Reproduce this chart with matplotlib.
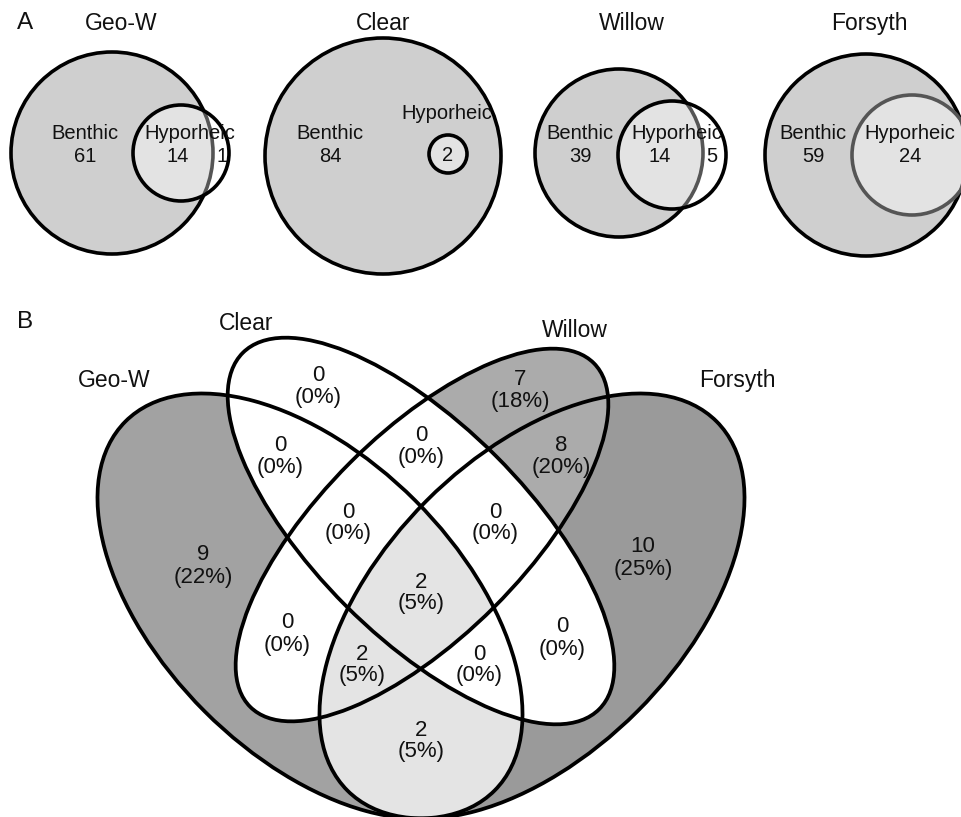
import numpy as np
import matplotlib
matplotlib.use("Agg")
import matplotlib.pyplot as plt
from matplotlib.patches import Circle, Ellipse

# ---------------- Data ----------------
# Panel A: benthic vs hyporheic taxa per site
sites = ["Geo-W", "Clear", "Willow", "Forsyth"]
benthic_only = [61, 84, 39, 59]
shared_taxa = [14, 2, 14, 24]
hyporheic_only = [1, 0, 5, 0]

# Panel B: four-set Venn (membership flags: Geo-W, Clear, Willow, Forsyth)
venn_sets = ["Geo-W", "Clear", "Willow", "Forsyth"]
region_keys = ["1000", "0100", "0010", "0001", "1100", "0110", "0011",
               "1110", "0111", "1111", "1010", "0101", "1011", "1101", "1001"]
region_counts = [9, 0, 7, 10, 0, 0, 8, 0, 0, 2, 0, 0, 2, 0, 2]
region_pcts = ["22%", "0%", "18%", "25%", "0%", "0%", "20%", "0%", "0%",
               "5%", "0%", "0%", "5%", "0%", "5%"]

# ---------------- Layout / style ----------------
FONT = ["Liberation Sans", "DejaVu Sans"]
plt.rcParams["font.family"] = FONT
TXT = "#111111"
LW = 2.6

fig = plt.figure(figsize=(9.62, 8.17), dpi=100)
ax = fig.add_axes([0, 0, 1, 1])
ax.set_xlim(0, 962)
ax.set_ylim(817, 0)
ax.axis("off")

# ---- Panel A ----
big_c = [(112, 153), (383, 156), (619, 153), (866, 155)]
big_r = [101, 118, 84, 101]
small_c = [(181, 153), (448, 154), (672, 155), (912, 155)]
small_r = [48, 19, 54, 60]
title_x = [121, 383, 632, 869]
benthic_x = [85, 330, 580, 813]
hypo_lab = [(190, 133), (447, 113), (677, 133), (910, 133)]
shared_pos = [(178, 156), (448, 155), (660, 156), (910, 156)]
hypo_only_x = [222, None, 712, None]
small_edge = ["black", "black", "black", "#555555"]

ax.text(25, 23, "A", fontsize=17.5, ha="center", va="center", color=TXT)
for i, s in enumerate(sites):
    ax.text(title_x[i], 23, s, fontsize=16.5, ha="center", va="center", color=TXT)
    big = Circle(big_c[i], big_r[i], fc="#cfcfcf", ec="black", lw=LW, zorder=1)
    ax.add_patch(big)
    sm = Circle(small_c[i], small_r[i], fc="white", ec="none", zorder=2)
    ax.add_patch(sm)
    ov = Circle(big_c[i], big_r[i], fc="#e3e3e3", ec="none", zorder=3)
    ax.add_patch(ov)
    ov.set_clip_path(sm)
    arc = Circle(big_c[i], big_r[i], fill=False, ec="#555555", lw=LW, zorder=4)
    ax.add_patch(arc)
    arc.set_clip_path(sm)
    ax.add_patch(Circle(small_c[i], small_r[i], fill=False, ec=small_edge[i],
                        lw=LW, zorder=5))
    ax.text(benthic_x[i], 133, "Benthic", fontsize=14.5, ha="center", va="center",
            color=TXT, zorder=6)
    ax.text(benthic_x[i], 156, str(benthic_only[i]), fontsize=14.5, ha="center",
            va="center", color=TXT, zorder=6)
    ax.text(*hypo_lab[i], "Hyporheic", fontsize=14.5, ha="center", va="center",
            color=TXT, zorder=6)
    ax.text(*shared_pos[i], str(shared_taxa[i]), fontsize=14.5, ha="center",
            va="center", color=TXT, zorder=6)
    if hyporheic_only[i] > 0:
        ax.text(hypo_only_x[i], 156, str(hyporheic_only[i]), fontsize=14.5,
                ha="center", va="center", color=TXT, zorder=6)

# ---- Panel B ----
# ellipses: (cx, cy, semi-major, semi-minor, angle) in pixel coords
ellipses = [(310, 606, 261, 149, 45),
            (421, 531, 252, 106, 45),
            (422, 535, 243, 102, 135),
            (532, 606, 261, 149, 135)]
fill_by_count = {0: "#ffffff", 2: "#e4e4e4", 7: "#ababab", 8: "#ababab",
                 9: "#a2a2a2", 10: "#9a9a9a"}

xs = np.linspace(0, 962, 1924)
ys = np.linspace(290, 817, 1054)
X, Y = np.meshgrid(xs, ys)
masks = []
for (cx, cy, a, b, ang) in ellipses:
    t = np.deg2rad(ang)
    dx, dy = X - cx, Y - cy
    u = dx * np.cos(t) + dy * np.sin(t)
    v = -dx * np.sin(t) + dy * np.cos(t)
    masks.append((u / a) ** 2 + (v / b) ** 2 <= 1)
rgba = np.zeros(X.shape + (4,))
for key, cnt in zip(region_keys, region_counts):
    sel = np.ones(X.shape, bool)
    for m, flag in zip(masks, key):
        sel &= m if flag == "1" else ~m
    rgba[sel] = matplotlib.colors.to_rgba(fill_by_count[cnt])
ax.imshow(rgba, extent=(0, 962, 817, 290), origin="upper",
          interpolation="nearest", zorder=1, aspect="auto")
ax.set_xlim(0, 962)
ax.set_ylim(817, 0)
for (cx, cy, a, b, ang) in ellipses:
    ax.add_patch(Ellipse((cx, cy), 2 * a, 2 * b, angle=ang, fill=False,
                         ec="black", lw=2.7, zorder=3))

label_pos = {"1000": (203, 566), "0100": (318, 386), "0010": (520, 390),
             "0001": (643, 558), "1100": (280, 456), "0110": (421, 446),
             "0011": (561, 456), "1110": (348, 523), "0111": (495, 523),
             "1111": (421, 593), "1010": (287, 634), "0101": (562, 638),
             "1011": (362, 665), "1101": (479, 665), "1001": (421, 741)}
for key, cnt, pct in zip(region_keys, region_counts, region_pcts):
    x, y = label_pos[key]
    ax.text(x, y - 11, str(cnt), fontsize=16, ha="center", va="center",
            color=TXT, zorder=4)
    ax.text(x, y + 11, "(" + pct + ")", fontsize=16, ha="center",
            va="center", color=TXT, zorder=4)

ax.text(25, 322, "B", fontsize=17.5, ha="center", va="center", color=TXT)
set_label_pos = [(114, 380), (246, 323), (575, 330), (737, 380)]
for name, (x, y) in zip(venn_sets, set_label_pos):
    ax.text(x, y, name, fontsize=16.5, ha="center", va="center", color=TXT)

fig.savefig("out.png", dpi=100, facecolor="white")
